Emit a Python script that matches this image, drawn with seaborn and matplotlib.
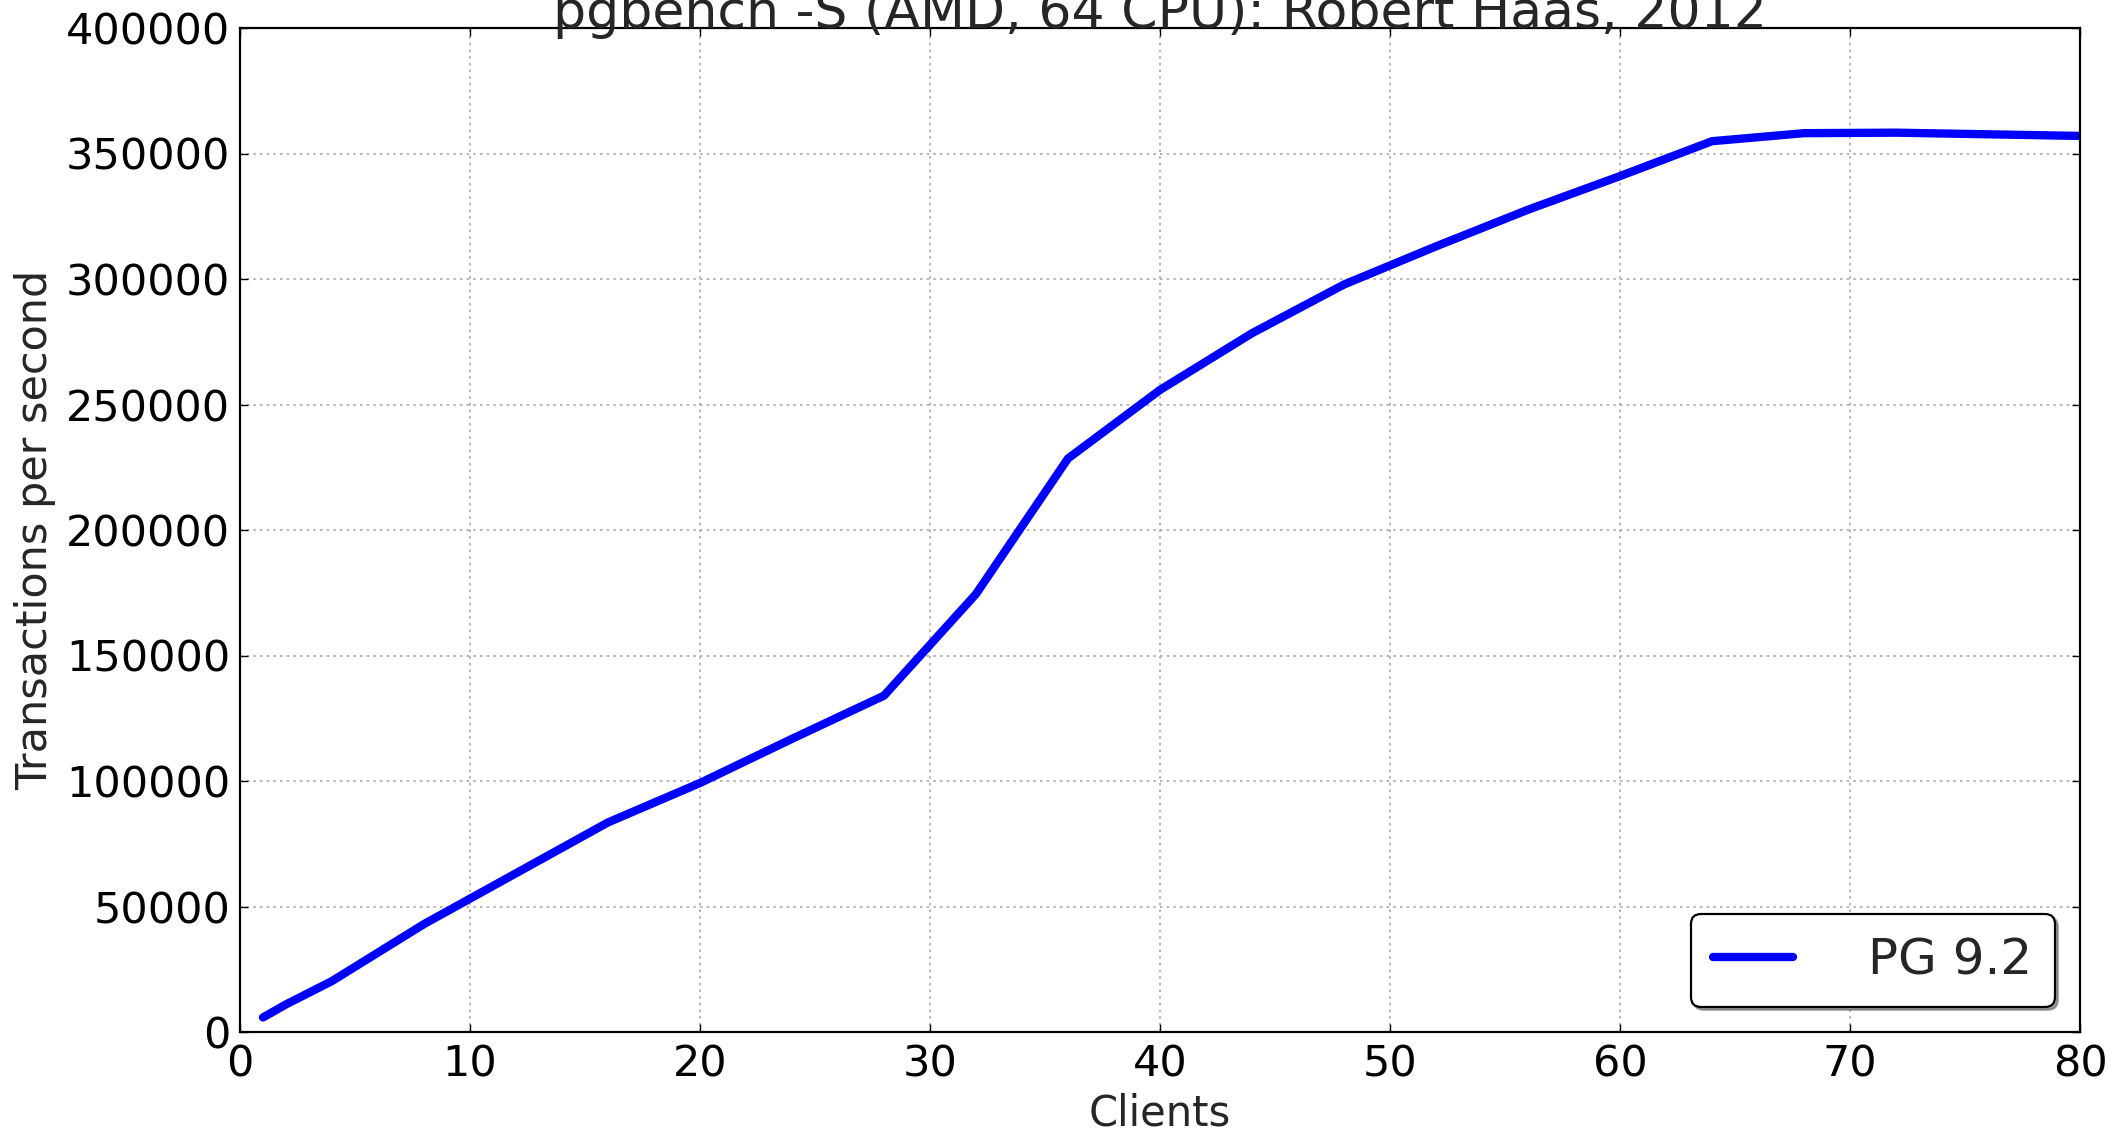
import matplotlib
matplotlib.use("Agg")
import matplotlib.pyplot as plt
import seaborn as sns
import pandas as pd
from matplotlib.ticker import MultipleLocator

# ---- data ----
clients = [1, 2, 4, 8, 16, 20, 24, 28, 32, 36, 40, 44, 48, 52, 56, 60, 64, 68, 72, 80]
tps = [5800, 11000, 20300, 43000, 83500, 99200, 116800, 134000, 174500, 228500,
       255800, 278400, 297800, 313000, 327600, 341000, 354900, 358100, 358300, 357000]
series_name = "PG 9.2"
title = "pgbench -S (AMD, 64 CPU): Robert Haas, 2012"
x_label = "Clients"
y_label = "Transactions per second"

df = pd.DataFrame({"Clients": clients, "TPS": tps, "series": series_name})

sns.set_style("ticks")
plt.rcParams["font.family"] = ["DejaVu Sans"]

W, H = 2112, 1132
fig = plt.figure(figsize=(W / 100, H / 100), dpi=100)
L, R, T, B = 240, 2080, 28, 1032
ax = fig.add_axes([L / W, 1 - B / H, (R - L) / W, (B - T) / H])

sns.lineplot(data=df, x="Clients", y="TPS", hue="series", palette=["#0000ff"],
             linewidth=6, ax=ax, legend=True)

ax.set_xlim(0, 80)
ax.set_ylim(0, 400000)
ax.xaxis.set_major_locator(MultipleLocator(10))
ax.yaxis.set_major_locator(MultipleLocator(50000))
ax.ticklabel_format(style="plain", axis="y", useOffset=False)

ax.grid(True, color="#a8a8a8", linestyle=(0, (1.5, 2.5)), linewidth=1.2)
ax.set_axisbelow(True)

for s in ax.spines.values():
    s.set_visible(True)
    s.set_linewidth(1.6)
    s.set_color("black")

ax.tick_params(axis="both", which="major", direction="in", length=6, width=1,
               top=True, right=True, labelsize=31, colors="black")
ax.tick_params(axis="y", pad=7)
ax.tick_params(axis="x", pad=8)

ax.set_xlabel(x_label, fontsize=30)
ax.set_ylabel(y_label, fontsize=31)
ax.xaxis.set_label_coords(0.5, -0.06)
ax.yaxis.set_label_coords(-0.1, 0.5)

ax.text(0.5, 1.0, title, transform=ax.transAxes, ha="center", va="baseline",
        fontsize=37.5, clip_on=False)

leg = ax.legend(loc="lower right", fontsize=36, frameon=True, fancybox=True,
                shadow=True, handlelength=1.6, handletextpad=1.5,
                borderaxespad=0.5, borderpad=0.45, framealpha=1)
leg.get_frame().set_edgecolor("black")
leg.get_frame().set_linewidth(1.6)
for line in leg.get_lines():
    line.set_linewidth(6)

fig.savefig("out.png", dpi=100)
